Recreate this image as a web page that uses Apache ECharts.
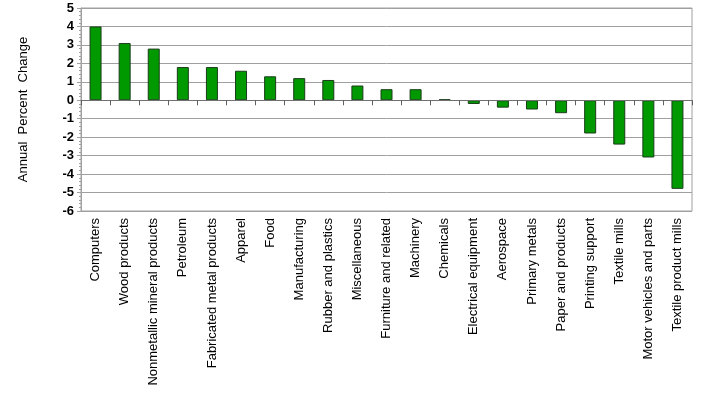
<!DOCTYPE html>
<html><head><meta charset="utf-8">
<script src="https://cdn.jsdelivr.net/npm/echarts@6/dist/echarts.min.js"></script>
<style>html,body{margin:0;padding:0;background:#fff}#c{width:710px;height:395px}</style>
</head><body><div id="c"></div>
<script>
const categories = ["Computers","Wood products","Nonmetallic mineral products","Petroleum","Fabricated metal products","Apparel","Food","Manufacturing","Rubber and plastics","Miscellaneous","Furniture and related","Machinery","Chemicals","Electrical equipment","Aerospace","Primary metals","Paper and products","Printing support","Textile mills","Motor vehicles and parts","Textile product mills"];
const values = [4.0,3.1,2.8,1.8,1.8,1.6,1.3,1.2,1.1,0.8,0.6,0.6,0.05,-0.2,-0.4,-0.5,-0.7,-1.8,-2.4,-3.1,-4.8];
const yTitle = "Annual  Percent  Change";
const chart = echarts.init(document.getElementById('c'));
chart.setOption({
  animation:false,
  grid:{left:81,top:8,width:611,height:203,show:true,borderColor:'#a0a0a0',borderWidth:1},
  xAxis:[
    {type:'category',data:categories,position:'bottom',z:5,axisLine:{onZero:true,lineStyle:{color:'#707070'}},
     axisTick:{show:true,interval:0,length:5,lineStyle:{color:'#606060',width:1}},axisLabel:{show:false,interval:0},splitLine:{show:false}},
    {type:'category',data:categories,position:'bottom',axisLine:{show:false},axisTick:{show:false},
     axisLabel:{rotate:90,interval:0,margin:7,fontFamily:'Arial, Liberation Sans',fontSize:13,color:'#000'}}
  ],
  yAxis:{type:'value',min:-6,max:5,interval:1,
    name:yTitle,nameLocation:'middle',nameGap:51,nameTextStyle:{fontFamily:'Arial, Liberation Sans',fontSize:13,color:'#000'},
    axisLine:{show:true,lineStyle:{color:'#a0a0a0'}},axisTick:{show:true,length:4,lineStyle:{color:'#a0a0a0'}},
    minorTick:{show:true,splitNumber:5,length:2,lineStyle:{color:'#a0a0a0'}},
    axisLabel:{fontFamily:'Arial, Liberation Sans',fontSize:13,fontWeight:'bold',color:'#000',margin:7},
    splitLine:{show:true,lineStyle:{color:'#a0a0a0',width:1}}},
  series:[{type:'bar',data:values,barWidth:12,xAxisIndex:0,
    itemStyle:{color:'#009900',borderColor:'#1a3d1a',borderWidth:1}}]
});
</script></body></html>
